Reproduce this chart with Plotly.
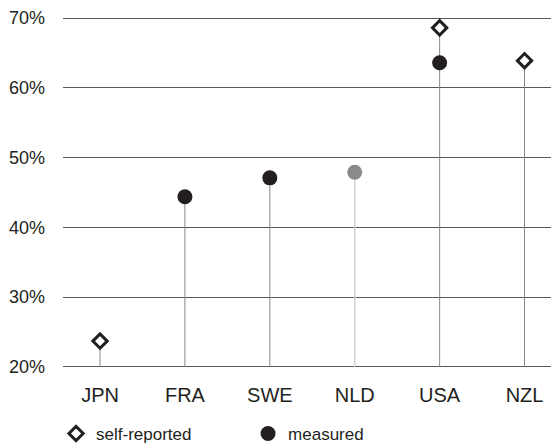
import plotly.graph_objects as go

countries = ["JPN", "FRA", "SWE", "NLD", "USA", "NZL"]
self_reported = [23.7, None, None, None, 68.6, 63.9]
measured = [None, 44.4, 47.1, 47.9, 63.6, None]
measured_grey = ["NLD"]
y_ticks = [20, 30, 40, 50, 60, 70]
y_tick_labels = ["20%", "30%", "40%", "50%", "60%", "70%"]
baseline = 20

fig = go.Figure()

# stems
sx, sy, gx, gy = [], [], [], []
for c, s, m in zip(countries, self_reported, measured):
    top = max(v for v in (s, m) if v is not None)
    if c in measured_grey:
        gx += [c, c, None]; gy += [baseline, top, None]
    else:
        sx += [c, c, None]; sy += [baseline, top, None]
fig.add_trace(go.Scatter(x=sx, y=sy, mode="lines", line=dict(color="#8a8a8a", width=1),
                         showlegend=False, hoverinfo="skip", cliponaxis=False))
fig.add_trace(go.Scatter(x=gx, y=gy, mode="lines", line=dict(color="#cfcfcf", width=1.5),
                         showlegend=False, hoverinfo="skip", cliponaxis=False))

# measured markers
mcol = ["#8a8a8d" if c in measured_grey else "#231f20" for c in countries]
fig.add_trace(go.Scatter(x=countries, y=measured, mode="markers", name="measured",
                         marker=dict(symbol="circle", size=15, color=mcol, line=dict(width=0)),
                         cliponaxis=False))
# self-reported markers
fig.add_trace(go.Scatter(x=countries, y=self_reported, mode="markers", name="self-reported",
                         marker=dict(symbol="diamond", size=11, color="white",
                                     line=dict(color="#231f20", width=3)),
                         cliponaxis=False))

fig.update_layout(
    width=551, height=436,
    margin=dict(l=55, r=0, t=8.2, b=75.2, autoexpand=False),
    paper_bgcolor="white", plot_bgcolor="white",
    font=dict(family="Liberation Sans, Arial, sans-serif", color="#231f20"),
    showlegend=True,
    legend=dict(orientation="h", x=-0.014, y=-0.184, xanchor="left", yanchor="middle",
                traceorder="reversed", font=dict(size=17), entrywidth=147,
                entrywidthmode="pixels", itemwidth=30, bgcolor="rgba(0,0,0,0)"),
    xaxis=dict(range=[-0.436, 5.406], showgrid=False, zeroline=False, showline=False,
               ticks="", tickfont=dict(size=20), ticklabelstandoff=12,
               categoryorder="array", categoryarray=countries),
    yaxis=dict(range=[19.7, 70.3], tickvals=y_ticks, ticktext=y_tick_labels,
               showgrid=True, gridcolor="#5a5a5a", gridwidth=1, zeroline=False,
               showline=False, ticks="", tickfont=dict(size=18), ticklabelstandoff=17),
)

fig.write_html("out.html")
